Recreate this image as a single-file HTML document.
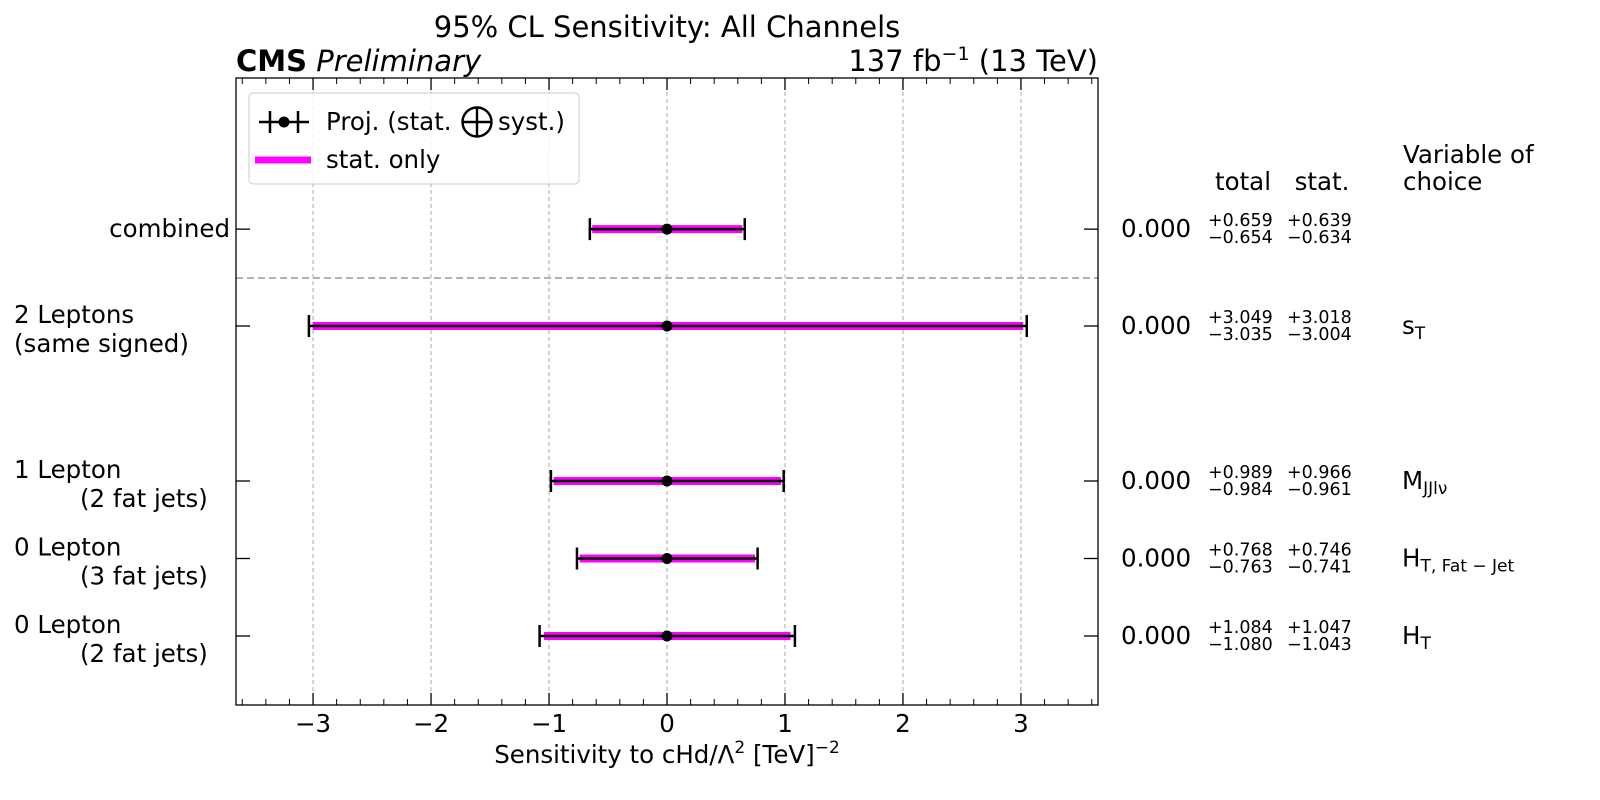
<!DOCTYPE html>
<html><head><meta charset="utf-8"><style>
html,body{margin:0;padding:0;background:#fff}
svg{display:block;font-family:"DejaVu Sans","Liberation Sans",sans-serif}
</style></head><body>
<svg id="chart" width="1600" height="800" viewBox="0 0 1600 800" xmlns="http://www.w3.org/2000/svg">
<text x="667" y="37" font-size="29" text-anchor="middle">95% CL Sensitivity: All Channels</text>
<text x="236" y="71" font-size="29"><tspan font-weight="bold">CMS</tspan> <tspan font-style="italic">Preliminary</tspan></text>
<text x="1098" y="71" font-size="29" text-anchor="end">137 fb<tspan dy="-11" font-size="19">−1</tspan><tspan dy="11"> (13 TeV)</tspan></text>
<g id="grid"></g>
<g id="marks"></g>
<rect x="236" y="78" width="862" height="627" fill="none" stroke="#000" stroke-width="1.3"/>
<g id="axis"></g>
<text x="667" y="763" font-size="24.5" text-anchor="middle">Sensitivity to cHd/Λ<tspan dy="-10" font-size="17">2</tspan><tspan dy="10"> [TeV]</tspan><tspan dy="-10" font-size="17">−2</tspan></text>
<g>
<rect x="249" y="93" width="330" height="91" rx="4" fill="#fff" fill-opacity="0.85" stroke="#ccc" stroke-width="1"/>
<g stroke="#000" stroke-width="2.5">
<line x1="259" y1="122" x2="309" y2="122"/><line x1="270" y1="111" x2="270" y2="133"/><line x1="298" y1="111" x2="298" y2="133"/>
<circle cx="284" cy="122" r="5.5" fill="#000" stroke="none"/></g>
<text x="326" y="130" font-size="24.5">Proj. (stat.</text>
<g stroke="#000" stroke-width="2.4" fill="none"><circle cx="477" cy="122" r="14.5"/><line x1="477" y1="107.5" x2="477" y2="136.5"/><line x1="462.5" y1="122" x2="491.5" y2="122"/></g>
<text x="498" y="130" font-size="24.5">syst.)</text>
<line x1="255" y1="160" x2="311" y2="160" stroke="#f0f" stroke-width="7"/>
<text x="326" y="168" font-size="24.5">stat. only</text>
</g>
<text x="1243" y="190" font-size="24.5" text-anchor="middle">total</text>
<text x="1322" y="190" font-size="24.5" text-anchor="middle">stat.</text>
<text x="1403" y="163" font-size="24.5">Variable of</text>
<text x="1403" y="190" font-size="24.5">choice</text>
<g id="table"></g>
</svg>
<script>
const categories=["combined","2 Leptons|(same signed)","1 Lepton|(2 fat jets)","0 Lepton|(3 fat jets)","0 Lepton|(2 fat jets)"];
const labelIndent=[0,0,66,66,66];
const yValues=[5.25,4,2,1,0];
const centers=[0,0,0,0,0];
const totUp=[0.659,3.049,0.989,0.768,1.084];
const totDn=[0.654,3.035,0.984,0.763,1.080];
const statUp=[0.639,3.018,0.966,0.746,1.047];
const statDn=[0.634,3.004,0.961,0.741,1.043];
const variables=["","s|T","M|JJlν","H|T, Fat − Jet","H|T"];
const xTicks=[-3,-2,-1,0,1,2,3];
const xTickLabels=["−3","−2","−1","0","1","2","3"];
const separatorY=4.62;
const NS='http://www.w3.org/2000/svg';
const X0=236,X1=1098,Y0=78,Y1=705,XMIN=-3.653,XMAX=3.653;
const xs=v=>X0+(v-XMIN)/(XMAX-XMIN)*(X1-X0);
const ys=v=>636-v*77.5;
function mk(p,tag,at){const e=document.createElementNS(NS,tag);for(const k in at)e.setAttribute(k,at[k]);p.appendChild(e);return e;}
const grid=document.getElementById('grid'),marks=document.getElementById('marks'),axis=document.getElementById('axis'),table=document.getElementById('table');
xTicks.forEach((t,i)=>{
 const x=xs(t);
 const g=mk(grid,'line',{x1:x,y1:Y0,x2:x,y2:Y1,stroke:'#aaa','stroke-width':1,'stroke-dasharray':'4,3'});
 
 
 const a=mk(axis,'line',{x1:x,y1:Y1,x2:x,y2:Y1-12,stroke:'#000','stroke-width':1.3});
 
 
 const b=mk(axis,'line',{x1:x,y1:Y0,x2:x,y2:Y0+12,stroke:'#000','stroke-width':1.3});
 
 
 const l=mk(axis,'text',{x:x,y:732,'font-size':24.5,'text-anchor':'middle'});l.textContent=xTickLabels[i];
 
 
});
for(let k=-18;k<=18;k++){
 if(k%5===0)continue;
 const x=xs(k*0.2);
 const m=mk(axis,'line',{x1:x,y1:Y1,x2:x,y2:Y1-6,stroke:'#000','stroke-width':1});
 
 
 const n=mk(axis,'line',{x1:x,y1:Y0,x2:x,y2:Y0+6,stroke:'#000','stroke-width':1});
 
 
}
const sep=mk(grid,'line',{x1:X0,y1:ys(separatorY),x2:X1,y2:ys(separatorY),stroke:'#999','stroke-width':1.5,'stroke-dasharray':'7,4'});


categories.forEach((c,i)=>{
 const y=ys(yValues[i]);
 [[X0,X0+14],[X1-14,X1]].forEach(p=>{const t=mk(axis,'line',{x1:p[0],y1:y,x2:p[1],y2:y,stroke:'#000','stroke-width':1.3});
  
  });
 const parts=c.split('|');
 const lab=mk(axis,'text',{'font-size':24.5});
 
 
 if(parts.length===1){lab.setAttribute('x',230);lab.setAttribute('y',y+8);lab.setAttribute('text-anchor','end');lab.textContent=c;}
 else{const t1=mk(lab,'tspan',{x:14,y:y-3});t1.textContent=parts[0];const t2=mk(lab,'tspan',{x:14+labelIndent[i],y:y+26});t2.textContent=parts[1];}
 const cx=centers[i];
 const s=mk(marks,'line',{x1:xs(cx-statDn[i]),y1:y,x2:xs(cx+statUp[i]),y2:y,stroke:'#f0f','stroke-width':8});
 
 
 const tl=mk(marks,'line',{x1:xs(cx-totDn[i]),y1:y,x2:xs(cx+totUp[i]),y2:y,stroke:'#000','stroke-width':2.5});
 
 
 [cx-totDn[i],cx+totUp[i]].forEach(v=>{const cap=mk(marks,'line',{x1:xs(v),y1:y-11,x2:xs(v),y2:y+11,stroke:'#000','stroke-width':2.5});
  
  });
 const pt=mk(marks,'circle',{cx:xs(cx),cy:y,r:5.5,fill:'#000'});
 
 
 const cv=mk(table,'text',{x:1121,y:y+8,'font-size':24.5});cv.textContent=centers[i].toFixed(3);
 
 
 [[1208,totUp[i],totDn[i]],[1287,statUp[i],statDn[i]]].forEach(r=>{
  const u=mk(table,'text',{x:r[0],y:y-3,'font-size':17.5});u.textContent='+'+r[1].toFixed(3);
  
  
  const d=mk(table,'text',{x:r[0],y:y+14,'font-size':17.5});d.textContent='−'+r[2].toFixed(3);
  
  
 });
 if(variables[i]){const vp=variables[i].split('|');
  const vt=mk(table,'text',{x:1402,y:y+8,'font-size':24.5});
  
  
  const a=mk(vt,'tspan',{});a.textContent=vp[0];
  const b=mk(vt,'tspan',{dy:5,'font-size':17});b.textContent=vp[1];}
});
</script>
</body></html>
